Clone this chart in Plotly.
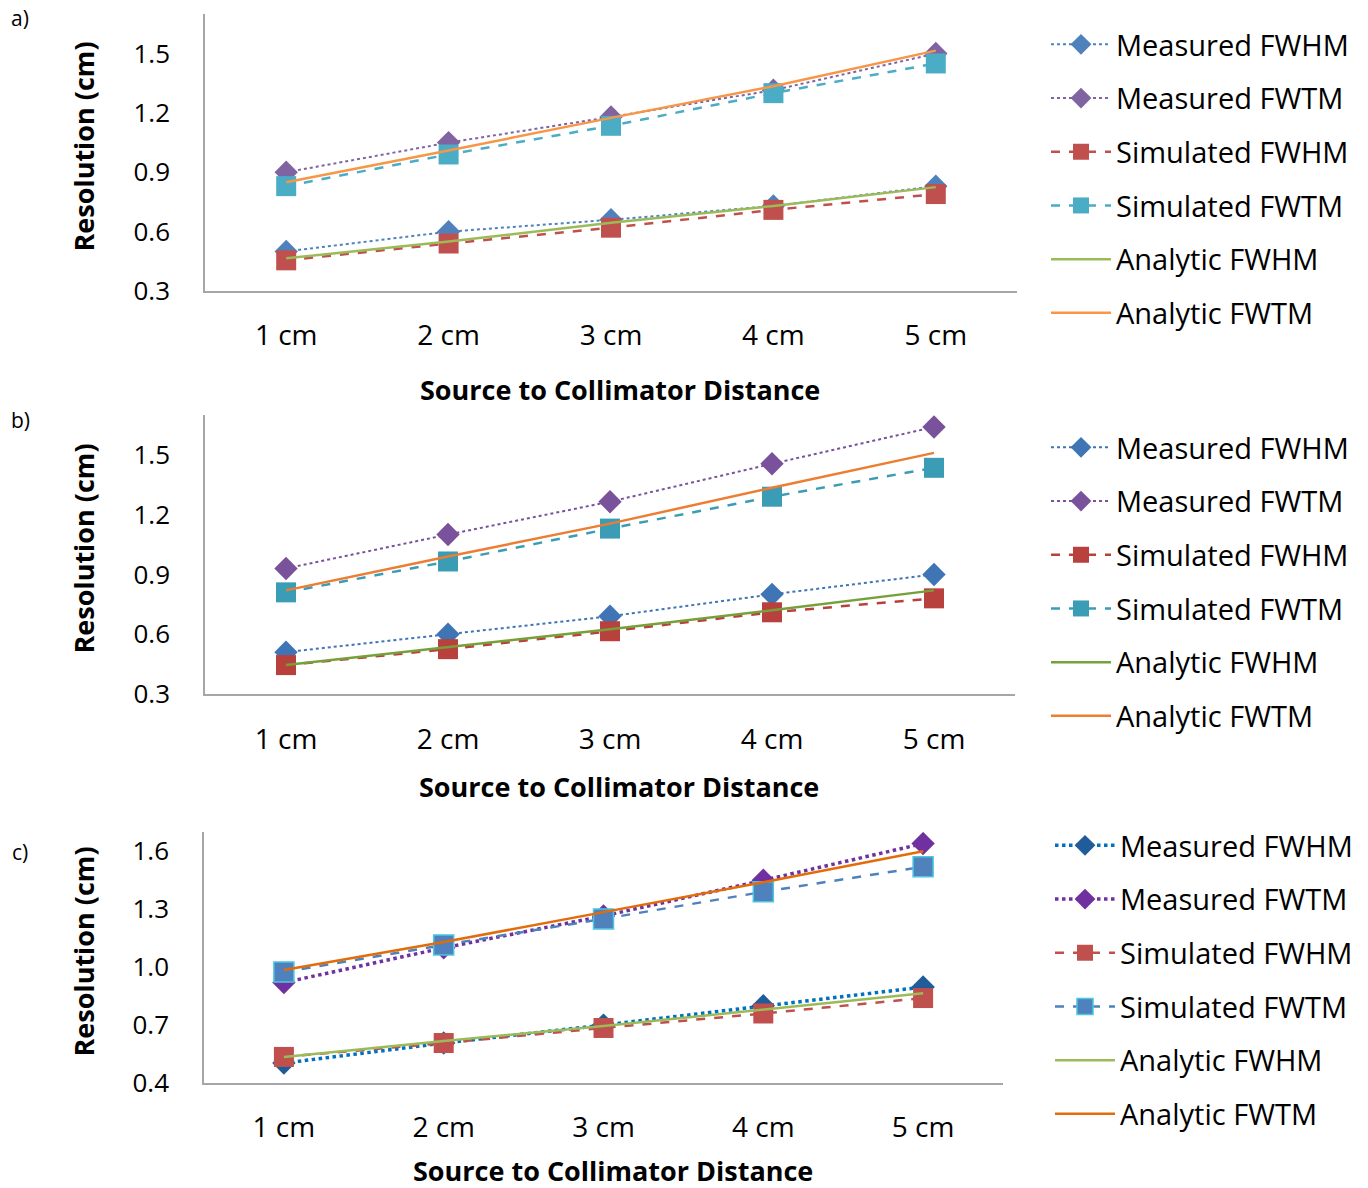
import plotly.graph_objects as go

categories = ["1 cm", "2 cm", "3 cm", "4 cm", "5 cm"]
series_names = ["Measured FWHM", "Measured FWTM", "Simulated FWHM",
                "Simulated FWTM", "Analytic FWHM", "Analytic FWTM"]

# Panel a
a_meas_fwhm = [0.50, 0.60, 0.66, 0.73, 0.83]
a_meas_fwtm = [0.90, 1.05, 1.18, 1.315, 1.50]
a_sim_fwhm = [0.455, 0.54, 0.62, 0.71, 0.79]
a_sim_fwtm = [0.83, 0.99, 1.135, 1.30, 1.45]
a_ana_fwhm = [0.465, 0.55, 0.645, 0.73, 0.825]
a_ana_fwtm = [0.85, 1.01, 1.175, 1.335, 1.515]

# Panel b
b_meas_fwhm = [0.51, 0.60, 0.69, 0.80, 0.90]
b_meas_fwtm = [0.93, 1.10, 1.265, 1.455, 1.64]
b_sim_fwhm = [0.445, 0.525, 0.615, 0.71, 0.78]
b_sim_fwtm = [0.81, 0.965, 1.13, 1.29, 1.435]
b_ana_fwhm = [0.445, 0.535, 0.625, 0.72, 0.82]
b_ana_fwtm = [0.82, 0.99, 1.155, 1.335, 1.51]

# Panel c
c_meas_fwhm = [0.503, 0.607, 0.70, 0.80, 0.897]
c_meas_fwtm = [0.92, 1.10, 1.265, 1.45, 1.64]
c_sim_fwhm = [0.535, 0.607, 0.685, 0.76, 0.84]
c_sim_fwtm = [0.975, 1.115, 1.25, 1.39, 1.52]
c_ana_fwhm = [0.535, 0.617, 0.695, 0.78, 0.865]
c_ana_fwtm = [0.985, 1.13, 1.285, 1.44, 1.60]

panel_labels = ["a)", "b)", "c)"]
y_ticks_ab = [0.3, 0.6, 0.9, 1.2, 1.5]
y_ticks_c = [0.4, 0.7, 1.0, 1.3, 1.6]

FONT = "Open Sans"
W, H = 1368, 1188

def px_x(x):
    return x / W

def px_y(y):
    return 1 - y / H

# pixel geometry of each panel: (left, right, top, bottom)
panels = [
    dict(box=(205, 1017, 14, 291), yr=[0.3, 1.7], ticks=y_ticks_ab, legend_top=19, legend_x=1046,
         label_y=18, xtitle_off=98, xstand=19,
         data=[a_meas_fwhm, a_meas_fwtm, a_sim_fwhm, a_sim_fwtm, a_ana_fwhm, a_ana_fwtm],
         styles=[
             dict(line=dict(color="#4F81BD", width=2, dash="dot"), marker=dict(symbol="diamond", size=18, color="#4F81BD")),
             dict(line=dict(color="#8064A2", width=2, dash="dot"), marker=dict(symbol="diamond", size=18, color="#8064A2")),
             dict(line=dict(color="#C0504D", width=2.5, dash="dash"), marker=dict(symbol="square", size=20, color="#C0504D")),
             dict(line=dict(color="#4BACC6", width=2.5, dash="dash"), marker=dict(symbol="square", size=20, color="#4BACC6")),
             dict(line=dict(color="#9BBB59", width=2.5), marker=dict(size=1, opacity=0)),
             dict(line=dict(color="#F79646", width=2.5), marker=dict(size=1, opacity=0)),
         ]),
    dict(box=(205, 1015, 415, 694), yr=[0.3, 1.7], ticks=y_ticks_ab, legend_top=422, legend_x=1046,
         label_y=420, xtitle_off=92, xstand=20,
         data=[b_meas_fwhm, b_meas_fwtm, b_sim_fwhm, b_sim_fwtm, b_ana_fwhm, b_ana_fwtm],
         styles=[
             dict(line=dict(color="#3F74B5", width=2, dash="dot"), marker=dict(symbol="diamond", size=18, color="#3F74B5")),
             dict(line=dict(color="#7A529C", width=2, dash="dot"), marker=dict(symbol="diamond", size=18, color="#7A529C")),
             dict(line=dict(color="#B8403D", width=2.5, dash="dash"), marker=dict(symbol="square", size=20, color="#B8403D")),
             dict(line=dict(color="#3A9DB5", width=2.5, dash="dash"), marker=dict(symbol="square", size=20, color="#3A9DB5")),
             dict(line=dict(color="#77A03A", width=2.5), marker=dict(size=1, opacity=0)),
             dict(line=dict(color="#ED7D31", width=2.5), marker=dict(size=1, opacity=0)),
         ]),
    dict(box=(204, 1003, 832, 1083), yr=[0.4, 1.7], ticks=y_ticks_c, legend_top=820, legend_x=1050,
         label_y=852, xtitle_off=87, xstand=19,
         data=[c_meas_fwhm, c_meas_fwtm, c_sim_fwhm, c_sim_fwtm, c_ana_fwhm, c_ana_fwtm],
         styles=[
             dict(line=dict(color="#0070C0", width=3.5, dash="dot"), marker=dict(symbol="diamond", size=18, color="#1F5C99")),
             dict(line=dict(color="#7030A0", width=3.5, dash="dot"), marker=dict(symbol="diamond", size=18, color="#7030A0")),
             dict(line=dict(color="#C0504D", width=2.5, dash="dash"), marker=dict(symbol="square", size=20, color="#C0504D")),
             dict(line=dict(color="#4F81BD", width=2.5, dash="dash"),
                  marker=dict(symbol="square", size=20, color="#4F81BD", line=dict(color="#4BC6E0", width=1.5))),
             dict(line=dict(color="#9BBB59", width=2.5), marker=dict(size=1, opacity=0)),
             dict(line=dict(color="#E36C0A", width=2.5), marker=dict(size=1, opacity=0)),
         ]),
]

fig = go.Figure()
layout = dict(
    width=W, height=H,
    margin=dict(l=0, r=0, t=0, b=0, autoexpand=False),
    paper_bgcolor="white", plot_bgcolor="white",
    font=dict(family=FONT, color="#000000", size=26),
    annotations=[],
)

for i, p in enumerate(panels):
    n = "" if i == 0 else str(i + 1)
    xa = "x" + n
    ya = "y" + n
    leg = "legend" + n
    l, r, t, b = p["box"]
    for j, name in enumerate(series_names):
        st = p["styles"][j]
        mode = "lines" if j >= 4 else "lines+markers"
        fig.add_trace(go.Scatter(
            x=categories, y=p["data"][j], name=name, mode=mode,
            line=st["line"], marker=st["marker"],
            xaxis=xa, yaxis=ya, legend=leg, legendgroup=f"{i}_{j}",
        ))
    layout["xaxis" + n] = dict(
        domain=[px_x(l), px_x(r)], anchor=ya, type="category",
        range=[-0.5, 4.5], showgrid=False, zeroline=False, automargin=False,
        showline=True, linecolor="#A6A6A6", linewidth=1.5,
        ticks="", tickfont=dict(size=28, family=FONT), ticklabelstandoff=p["xstand"],
    )
    layout["yaxis" + n] = dict(
        domain=[px_y(b), px_y(t)], anchor=xa, range=p["yr"], automargin=False,
        tickvals=p["ticks"], ticktext=[f"{v:.1f}" for v in p["ticks"]],
        showgrid=False, zeroline=False,
        showline=True, linecolor="#A6A6A6", linewidth=1.5,
        ticks="", tickfont=dict(size=26, family=FONT), ticklabelstandoff=28,
    )
    layout[leg] = dict(
        x=px_x(p["legend_x"]), xanchor="left", y=px_y(p["legend_top"]), yanchor="top",
        xref="paper", yref="paper",
        orientation="v", tracegroupgap=13, itemwidth=60,
        font=dict(size=29, family=FONT, color="#000000"),
        bgcolor="rgba(0,0,0,0)", itemclick=False,
    )
    # axis titles
    layout["annotations"].append(dict(
        text="<b>Source to Collimator Distance</b>", xref="paper", yref="paper",
        x=px_x((l + r) / 2 + 9), y=px_y(b + p["xtitle_off"]), xanchor="center", yanchor="middle",
        showarrow=False, font=dict(size=27, family=FONT)))
    layout["annotations"].append(dict(
        text="<b>Resolution (cm)</b>", xref="paper", yref="paper",
        x=px_x(83), y=px_y((t + b) / 2 - 6), xanchor="center", yanchor="middle",
        textangle=-90, showarrow=False, font=dict(size=27, family=FONT)))
    layout["annotations"].append(dict(
        text=panel_labels[i], xref="paper", yref="paper",
        x=px_x(20), y=px_y(p["label_y"]), xanchor="center", yanchor="middle",
        showarrow=False, font=dict(size=21, family=FONT)))

fig.update_layout(**layout)
fig.update_layout(showlegend=True)
fig.write_html("out.html")
